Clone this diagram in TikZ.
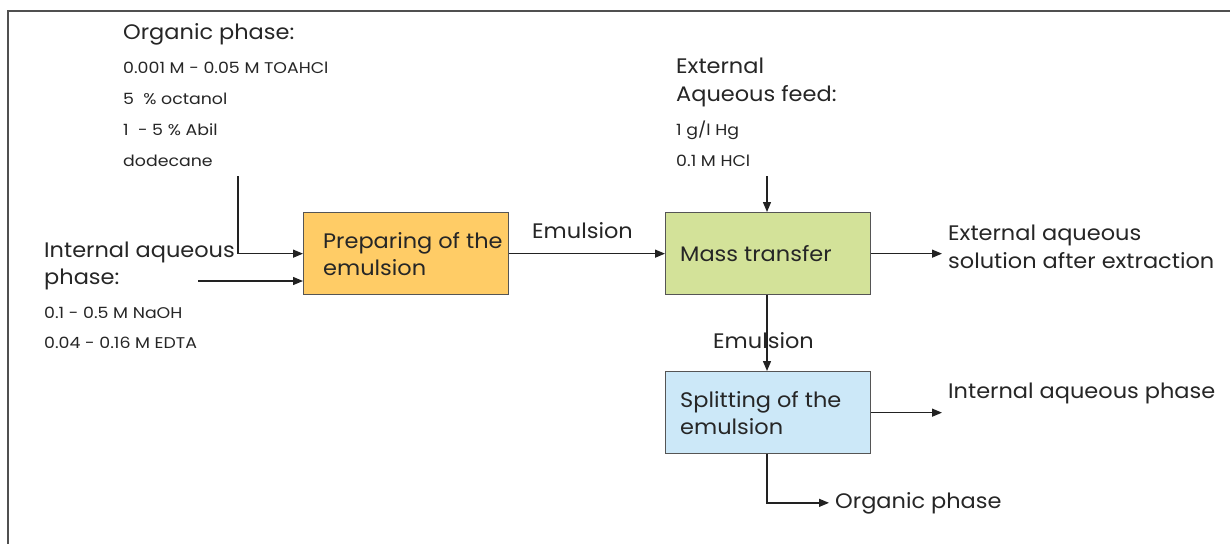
\documentclass[tikz,border=0pt]{standalone}
\usepackage{fontspec}
\setmainfont[FakeStretch=1.07]{Poppins}
\newfontfamily\smlfam[FakeStretch=1.12]{Poppins}
\usetikzlibrary{arrows.meta}
\definecolor{framegray}{HTML}{505050}
\definecolor{boxline}{HTML}{555555}
\definecolor{linec}{HTML}{222222}
\definecolor{txt}{HTML}{262626}
\definecolor{prepfill}{HTML}{FFCC66}
\definecolor{massfill}{HTML}{D3E299}
\definecolor{splitfill}{HTML}{CCE8F8}
\begin{document}
\begin{tikzpicture}[x=1pt,y=-1pt,
  box/.style={draw=boxline, line width=1.3pt, minimum width=205pt, minimum height=82pt, anchor=north west, inner sep=0pt},
  big/.style={anchor=base west, inner sep=0pt, text=txt, font=\fontsize{21}{27}\selectfont},
  sml/.style={anchor=base west, inner sep=0pt, text=txt, font=\smlfam\fontsize{15.5}{16}\selectfont},
  boxtxt/.style={anchor=west, inner sep=0pt, text=txt, align=left, font=\fontsize{21}{27}\selectfont},
  conn/.style={draw=linec, line width=1.3pt, -{Triangle[length=10pt,width=8pt]}},
  plain/.style={draw=linec, line width=1.3pt}]
\useasboundingbox (0,0) rectangle (1230,543);
\fill[white] (0,0) rectangle (1230,543);
\draw[framegray, line width=2.2pt] (8,545) -- (8,11) -- (1232,11);

% boxes
\node[box, fill=prepfill] (prep) at (303,212) {};
\node[box, fill=massfill] (mass) at (665,212) {};
\node[box, fill=splitfill] (split) at (665,371) {};
\node[boxtxt] (prepT) at ([xshift=20pt]prep.west) {Preparing of the\\emulsion};
\node[boxtxt] (massT) at ([xshift=15pt]mass.west) {Mass transfer};
\node[boxtxt] (splitT) at ([xshift=15pt]split.west) {Splitting of the\\emulsion};

% organic phase
\node[big] (orgH) at (123,40) {Organic phase:};
\node[sml] (org1) at (123,74) {0.001 M - 0.05 M TOAHCl};
\node[sml] (org2) at (123,104) {5\ \ \% octanol};
\node[sml] (org3) at (123,135) {1\ \ - 5 \% Abil};
\node[sml] (org4) at (123,166) {dodecane};

% internal aqueous phase
\node[big] (intH1) at (44,257) {Internal aqueous};
\node[big] (intH2) at (44,284) {phase:};
\node[sml] (int1) at (44,318) {0.1 - 0.5 M NaOH};
\node[sml] (int2) at (44,348) {0.04 - 0.16 M EDTA};

% external aqueous feed
\node[big] (extH1) at (676,73) {External};
\node[big] (extH2) at (676,101) {Aqueous feed:};
\node[sml] (ext1) at (676,135) {1 g/l Hg};
\node[sml] (ext2) at (676,166) {0.1 M HCl};

% outputs
\node[big] (outE1) at (948,240) {External aqueous};
\node[big] (outE2) at (948,268) {solution after extraction};
\node[big] (outI) at (948,398) {Internal aqueous phase};
\node[big] (outO) at (835,508) {Organic phase};

% emulsion labels
\node[big] (em1) at (532,238) {Emulsion};
\node[big] (em2) at (713,348) {Emulsion};

% connectors
\coordinate (orgS) at (238,176);
\coordinate (intS) at (198,281);
\coordinate (extS) at (767,176);
\draw[conn] (orgS) |- (prep.west);
\draw[conn] (intS) -- (intS -| prep.west);
\draw[conn] (prep.east) -- (mass.west);
\draw[conn] (extS) -- (extS |- mass.north);
\draw[conn] (mass.east) -- ([xshift=-6pt]outE1.west |- mass.east);
\draw[conn] (mass.south -| extS) -- (split.north -| extS);
\draw[conn] (split.east) -- ([xshift=-6pt]outI.west |- split.east);
\draw[conn] (split.south -| extS) |- ([xshift=-6pt]outO.west);
\end{tikzpicture}
\end{document}
